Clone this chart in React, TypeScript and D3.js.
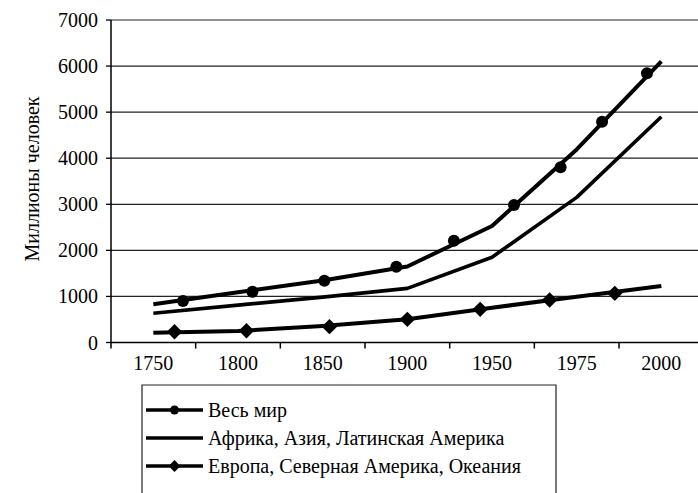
import * as d3 from "d3";

// categories on the x axis
const years = ["1750", "1800", "1850", "1900", "1950", "1975", "2000"];
const yTicks = [0, 1000, 2000, 3000, 4000, 5000, 6000, 7000];

// line values at each category (millions)
const worldValues = [829, 1090, 1345, 1650, 2530, 4190, 6100];
const southValues = [634, 811, 985, 1175, 1850, 3150, 4900];
const northValues = [213, 250, 360, 505, 755, 995, 1225];

// markers sit between categories in the original: fractional category index + value
const worldMarkerPos = [0.35, 1.17, 2.02, 2.87, 3.55, 4.26, 4.81, 5.3, 5.83];
const worldMarkerValues = [901, 1103, 1341, 1646, 2210, 2985, 3802, 4794, 5843];
const northMarkerPos = [0.25, 1.1, 2.08, 3.0, 3.86, 4.68, 5.45];
const northMarkerValues = [234, 256, 343, 503, 720, 922, 1068];

const legendLabels = [
  "Весь мир",
  "Африка, Азия, Латинская Америка",
  "Европа, Северная Америка, Океания",
];
const yTitle = "Миллионы человек";

const FONT = "serif";

export default function App() {
  const width = 698;
  const height = 493;
  const margin = { top: 20, left: 111 };
  const bandW = 84.67;
  const chartW = bandW * years.length;
  const chartH = 322.5;

  const x = d3.scaleBand().domain(years).range([0, chartW]);
  // continuous position: category index -> pixel at band centre
  const xPos = d3
    .scaleLinear()
    .domain([-0.5, years.length - 0.5])
    .range([0, chartW]);
  const y = d3.scaleLinear().domain([0, 7000]).range([chartH, 0]);

  const line = d3
    .line<number>()
    .x((_, i) => xPos(i))
    .y((d) => y(d));

  const series = [
    { values: worldValues, w: 4 },
    { values: southValues, w: 3.6 },
    { values: northValues, w: 4 },
  ];

  const diamond = d3.symbol().type(d3.symbolDiamond2).size(150)() ?? "";
  const smallDiamond = d3.symbol().type(d3.symbolDiamond2).size(90)() ?? "";
  const rowY = [410, 438, 466];

  return (
    <svg
      width={width}
      height={height}
      style={{ position: "absolute", left: 0, top: 0, background: "#fff" }}
    >
      <g transform={`translate(${margin.left},${margin.top})`}>
        {/* grid */}
        {yTicks
          .filter((t) => t > 0)
          .map((t) => (
            <line key={t} x1={0} x2={chartW} y1={y(t)} y2={y(t)} stroke="#222" strokeWidth={1.2} />
          ))}

        {/* y axis */}
        {yTicks.map((t) => (
          <g key={t} transform={`translate(0,${y(t)})`}>
            <line x1={-5} x2={0} stroke="#000" strokeWidth={1.3} />
            <text x={-13} y={7} textAnchor="end" fontSize={20} fontFamily={FONT} fill="#000">
              {String(t)}
            </text>
          </g>
        ))}
        <line x1={0} x2={0} y1={0} y2={chartH + 6} stroke="#000" strokeWidth={1.5} />

        {/* x axis */}
        <line x1={0} x2={chartW} y1={chartH} y2={chartH} stroke="#000" strokeWidth={1.5} />
        {years.slice(1).map((yr) => (
          <line key={yr} x1={x(yr)} x2={x(yr)} y1={chartH} y2={chartH + 6} stroke="#000" strokeWidth={1.5} />
        ))}
        {years.map((yr) => (
          <text
            key={yr}
            x={(x(yr) ?? 0) + x.bandwidth() / 2}
            y={chartH + 27}
            textAnchor="middle"
            fontSize={20}
            fontFamily={FONT}
            fill="#000"
          >
            {yr}
          </text>
        ))}

        {/* lines */}
        {series.map((s, i) => (
          <path
            key={i}
            d={line(s.values) ?? ""}
            fill="none"
            stroke="#000"
            strokeWidth={s.w}
            strokeLinejoin="round"
          />
        ))}

        {/* markers */}
        {worldMarkerPos.map((p, i) => (
          <circle key={i} cx={xPos(p)} cy={y(worldMarkerValues[i])} r={6} fill="#000" />
        ))}
        {northMarkerPos.map((p, i) => (
          <path
            key={i}
            d={diamond}
            transform={`translate(${xPos(p)},${y(northMarkerValues[i])})`}
            fill="#000"
          />
        ))}
      </g>

      {/* y title */}
      <text
        transform="translate(39,179) rotate(-90)"
        textAnchor="middle"
        fontSize={20}
        fontFamily={FONT}
        fill="#000"
      >
        {yTitle}
      </text>

      {/* legend */}
      <path d="M142,500 V385 H556 V500" fill="none" stroke="#222" strokeWidth={1.2} />
      {legendLabels.map((label, i) => (
        <g key={label} transform={`translate(0,${rowY[i]})`}>
          <line x1={146} x2={203} stroke="#000" strokeWidth={3.6} />
          {i === 0 && <circle cx={174.5} r={4.5} fill="#000" />}
          {i === 2 && <path d={smallDiamond} transform="translate(174.5,0)" fill="#000" />}
          <text x={208} y={7} fontSize={20} fontFamily={FONT} fill="#000">
            {label}
          </text>
        </g>
      ))}
    </svg>
  );
}
